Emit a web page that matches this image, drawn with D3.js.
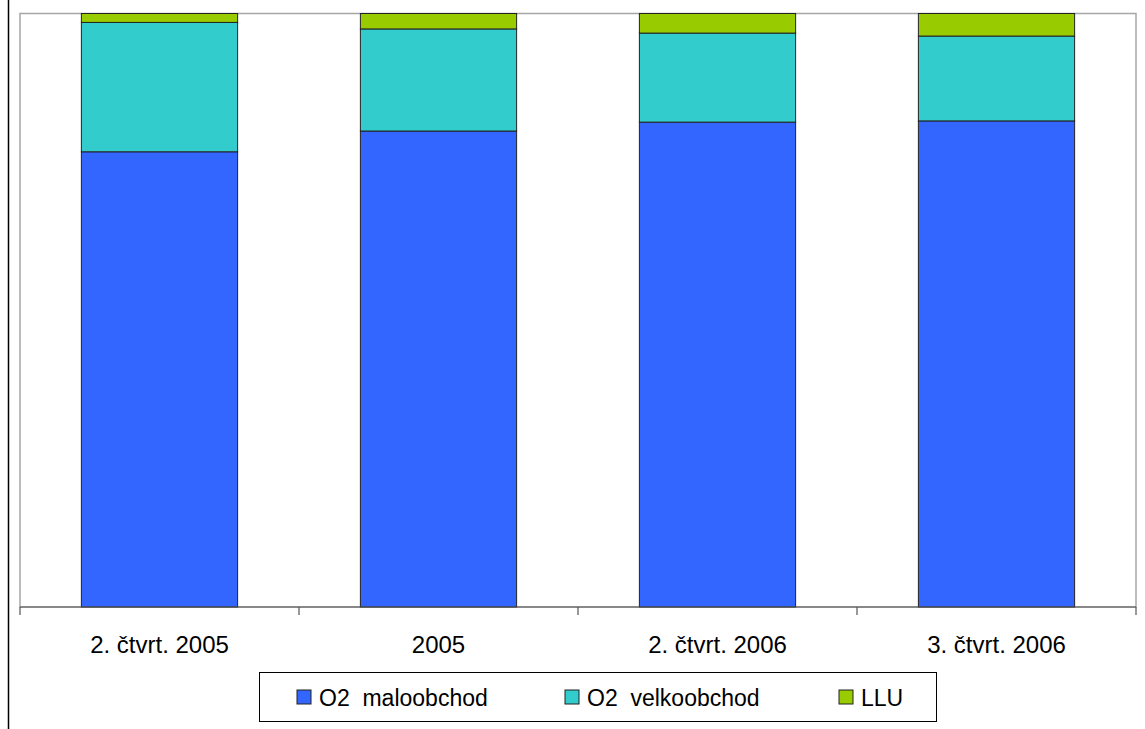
<!DOCTYPE html>
<html>
<head>
<meta charset="utf-8">
<script src="https://cdn.jsdelivr.net/npm/d3@7"></script>
<style>
  body { margin: 0; background: #fff; }
  svg { display: block; }
  text { font-family: "Liberation Sans", Arial, sans-serif; fill: #000; }
</style>
</head>
<body>
<svg id="chart" width="1145" height="729"></svg>
<script>
// categories and shares (fraction of 100 %)
const categories = ['2. čtvrt. 2005', '2005', '2. čtvrt. 2006', '3. čtvrt. 2006'];
const seriesNames = ['O2  maloobchod', 'O2  velkoobchod', 'LLU'];
const maloobchod = [0.767, 0.802, 0.817, 0.819];
const velkoobchod = [0.218, 0.172, 0.150, 0.143];
const llu = [0.015, 0.026, 0.033, 0.038];
const colors = ['#3366FF', '#33CCCC', '#99CC00'];

const svg = d3.select('#chart');

// plot area
const plotLeft = 20, plotRight = 1136, plotTop = 13.5, plotBottom = 607;

// outer frame line on the left
svg.append('line')
  .attr('x1', 8.5).attr('x2', 8.5)
  .attr('y1', 0).attr('y2', 729)
  .attr('stroke', '#000').attr('stroke-width', 1.5);

const x = d3.scaleBand().domain(categories).range([plotLeft, plotRight]).padding(0);
const y = d3.scaleLinear().domain([0, 1]).range([plotBottom, plotTop]);

// plot border (light gray)
svg.append('rect')
  .attr('x', plotLeft).attr('y', plotTop)
  .attr('width', plotRight - plotLeft).attr('height', plotBottom - plotTop)
  .attr('fill', 'none').attr('stroke', '#a6a6a6').attr('stroke-width', 1.5);

// stack data
const rows = categories.map((c, i) => ({
  cat: c,
  [seriesNames[0]]: maloobchod[i],
  [seriesNames[1]]: velkoobchod[i],
  [seriesNames[2]]: llu[i]
}));
const stacked = d3.stack().keys(seriesNames)(rows);

const barW = x.bandwidth() * 0.56;

svg.append('g')
  .selectAll('g')
  .data(stacked)
  .join('g')
  .attr('fill', (d, i) => colors[i])
  .selectAll('rect')
  .data(d => d)
  .join('rect')
  .attr('x', d => x(d.data.cat) + (x.bandwidth() - barW) / 2)
  .attr('y', d => y(d[1]))
  .attr('width', barW)
  .attr('height', d => y(d[0]) - y(d[1]))
  .attr('stroke', '#222')
  .attr('stroke-width', 1);

// x axis line + ticks at category boundaries
const axis = svg.append('g');
axis.append('line')
  .attr('x1', plotLeft).attr('x2', plotRight)
  .attr('y1', plotBottom).attr('y2', plotBottom)
  .attr('stroke', '#555').attr('stroke-width', 1.2);

const bounds = categories.map(c => x(c)).concat([plotRight]);
axis.selectAll('line.tick')
  .data(bounds)
  .join('line')
  .attr('class', 'tick')
  .attr('x1', d => d).attr('x2', d => d)
  .attr('y1', plotBottom).attr('y2', plotBottom + 8)
  .attr('stroke', '#555').attr('stroke-width', 1.2);

axis.selectAll('text')
  .data(categories)
  .join('text')
  .attr('x', d => x(d) + x.bandwidth() / 2)
  .attr('y', 653)
  .attr('text-anchor', 'middle')
  .style('font-size', '24px')
  .text(d => d);

// legend
const legend = svg.append('g');
legend.append('rect')
  .attr('x', 259.5).attr('y', 672.5)
  .attr('width', 677).attr('height', 49)
  .attr('fill', '#fff').attr('stroke', '#000').attr('stroke-width', 1);

const legendX = [297, 565, 839];
const item = legend.selectAll('g.item')
  .data(seriesNames)
  .join('g')
  .attr('class', 'item')
  .attr('transform', (d, i) => `translate(${legendX[i]},690)`);

item.append('rect')
  .attr('width', 14).attr('height', 14)
  .attr('fill', (d, i) => colors[i])
  .attr('stroke', '#222').attr('stroke-width', 1);

item.append('text')
  .attr('x', 22).attr('y', 16)
  .style('font-size', '23px')
  .style('white-space', 'pre')
  .text(d => d);
</script>
</body>
</html>
